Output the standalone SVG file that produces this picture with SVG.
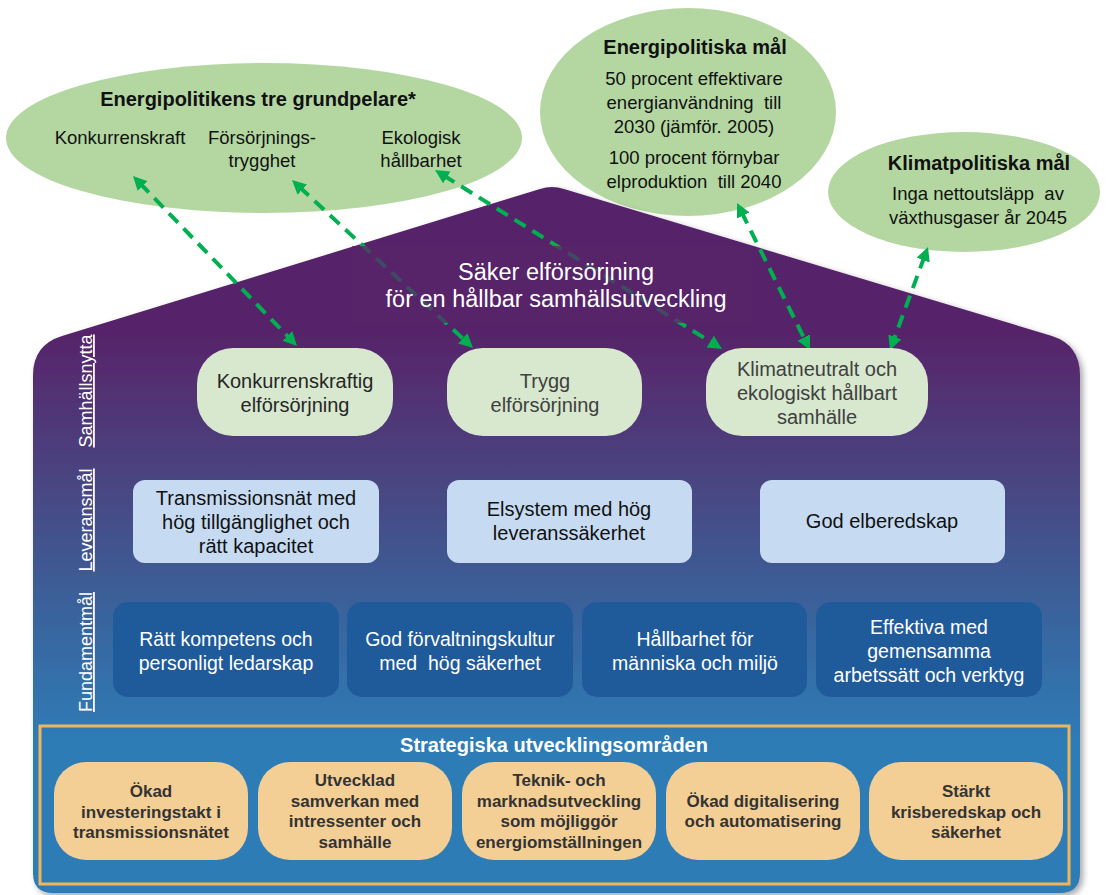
<svg xmlns="http://www.w3.org/2000/svg" width="1120" height="895" viewBox="0 0 1120 895">
<style>
text{font-family:"Liberation Sans",Arial,sans-serif;text-anchor:middle}
.ell{fill:#B4D7A2}
.sn{fill:#D7E8CE}
.lv{fill:#C6DBF2}
.fm{fill:#1F5A9B}
.st{fill:#F3CF95}
.conn{stroke:#00B050;stroke-width:4;stroke-dasharray:13 8;fill:none;marker-start:url(#ah);marker-end:url(#ah)}
.h{font-weight:bold;font-size:20px;fill:#111}
.e{font-size:18.5px;fill:#111}
.s{font-size:20px;fill:#262626}
.l{font-size:20px;fill:#111}
.f{font-size:19.5px;fill:#fff}
.b{font-size:17px;font-weight:bold;fill:#333}
.v{font-size:18px;fill:#fff;text-decoration:underline}
</style>
<defs>
<linearGradient id="hg" gradientUnits="userSpaceOnUse" x1="0" y1="335" x2="0" y2="740">
<stop offset="0" stop-color="#57246A"/>
<stop offset="0.35" stop-color="#4A4480"/>
<stop offset="0.7" stop-color="#39649D"/>
<stop offset="1" stop-color="#2E7BB6"/>
</linearGradient>
<filter id="sh" x="-5%" y="-5%" width="110%" height="110%">
<feDropShadow dx="3" dy="3" stdDeviation="3" flood-color="#000" flood-opacity="0.35"/>
</filter>
<marker id="ah" viewBox="0 0 10 10" refX="3" refY="5" markerUnits="userSpaceOnUse" markerWidth="14" markerHeight="14" orient="auto-start-reverse">
<path d="M0,0 L10,5 L0,10 z" fill="#00B050"/>
</marker>
</defs>

<g id="ellipse-grundpelare">
<ellipse class="ell" cx="264" cy="138" rx="258" ry="75"/>
<text class="h" x="258" y="106">Energipolitikens tre grundpelare*</text>
<text class="e" x="120" y="144">Konkurrenskraft</text>
<text class="e" x="262" y="144">Försörjnings-</text>
<text class="e" x="262" y="167">trygghet</text>
<text class="e" x="421" y="144">Ekologisk</text>
<text class="e" x="421" y="167">hållbarhet</text>
</g>

<g id="ellipse-energipolitiska">
<ellipse class="ell" cx="688" cy="112" rx="148" ry="104"/>
<text class="h" x="695" y="54">Energipolitiska mål</text>
<text class="e" x="694" y="85">50 procent effektivare</text>
<text class="e" x="694" y="109" xml:space="preserve">energianvändning  till</text>
<text class="e" x="694" y="133">2030 (jämför. 2005)</text>
<text class="e" x="694" y="164">100 procent förnybar</text>
<text class="e" x="694" y="188" xml:space="preserve">elproduktion  till 2040</text>
</g>

<g id="ellipse-klimatpolitiska">
<ellipse class="ell" cx="964" cy="192" rx="136" ry="60"/>
<text class="h" x="979" y="170">Klimatpolitiska mål</text>
<text class="e" x="978" y="200" xml:space="preserve">Inga nettoutsläpp  av</text>
<text class="e" x="978" y="224">växthusgaser år 2045</text>
</g>

<g id="house">
<path filter="url(#sh)" fill="url(#hg)" d="M33,873 L33,375 Q33,345 62,336 L540,189 Q552,185 564,189 L1052,336 Q1080,345 1080,375 L1080,873 Q1080,893 1060,893 L53,893 Q33,893 33,873 Z"/>
</g>

<g id="connectors">
<line class="conn" x1="139.8" y1="183.05" x2="290.2" y2="338.95"/>
<line class="conn" x1="299.2" y1="186.7" x2="465.8" y2="341.3"/>
<line class="conn" x1="443.3" y1="175.2" x2="713.7" y2="343.8"/>
<line class="conn" x1="741.4" y1="211.8" x2="805.6" y2="341.2"/>
<line class="conn" x1="924.6" y1="256.2" x2="893.4" y2="340.8"/>
</g>

<g id="title">
<rect x="352" y="246" width="400" height="77" fill="#58246A" opacity="0.72"/>
<text x="556" y="280" style="font-size:23.5px;fill:#fff">Säker elförsörjning</text>
<text x="556" y="307" style="font-size:23.5px;fill:#fff">för en hållbar samhällsutveckling</text>
</g>

<g id="labels">
<text class="v" transform="translate(92,391) rotate(-90)">Samhällsnytta</text>
<text class="v" transform="translate(92,520) rotate(-90)">Leveransmål</text>
<text class="v" transform="translate(92,652) rotate(-90)">Fundamentmål</text>
</g>

<g id="sn1">
<rect class="sn" x="197" y="348" width="196" height="88" rx="36"/>
<text class="s" x="295" y="388">Konkurrenskraftig</text>
<text class="s" x="295" y="412">elförsörjning</text>
</g>
<g id="sn2">
<rect class="sn" x="447" y="348" width="195" height="88" rx="36"/>
<text class="s" x="545" y="388" style="fill:#404040">Trygg</text>
<text class="s" x="545" y="412" style="fill:#404040">elförsörjning</text>
</g>
<g id="sn3">
<rect class="sn" x="706" y="348" width="222" height="88" rx="36"/>
<text class="s" x="817" y="376" style="fill:#404040">Klimatneutralt och</text>
<text class="s" x="817" y="400" style="fill:#404040">ekologiskt hållbart</text>
<text class="s" x="817" y="424" style="fill:#404040">samhälle</text>
</g>

<g id="lv1">
<rect class="lv" x="133" y="480" width="246" height="83" rx="12"/>
<text class="l" x="256" y="505">Transmissionsnät med</text>
<text class="l" x="256" y="529">hög tillgänglighet och</text>
<text class="l" x="256" y="553">rätt kapacitet</text>
</g>
<g id="lv2">
<rect class="lv" x="447" y="480" width="245" height="83" rx="12"/>
<text class="l" x="569" y="516">Elsystem med hög</text>
<text class="l" x="569" y="540">leveranssäkerhet</text>
</g>
<g id="lv3">
<rect class="lv" x="760" y="480" width="245" height="83" rx="12"/>
<text class="l" x="882" y="528">God elberedskap</text>
</g>

<g id="fm1">
<rect class="fm" x="113" y="602" width="226" height="95" rx="15"/>
<text class="f" x="226" y="646">Rätt kompetens och</text>
<text class="f" x="226" y="670">personligt ledarskap</text>
</g>
<g id="fm2">
<rect class="fm" x="347" y="602" width="226" height="95" rx="15"/>
<text class="f" x="460" y="646">God förvaltningskultur</text>
<text class="f" x="460" y="670" xml:space="preserve">med  hög säkerhet</text>
</g>
<g id="fm3">
<rect class="fm" x="582" y="602" width="225" height="95" rx="15"/>
<text class="f" x="695" y="646">Hållbarhet för</text>
<text class="f" x="695" y="670">människa och miljö</text>
</g>
<g id="fm4">
<rect class="fm" x="816" y="602" width="226" height="95" rx="15"/>
<text class="f" x="929" y="634">Effektiva med</text>
<text class="f" x="929" y="658">gemensamma</text>
<text class="f" x="929" y="682">arbetssätt och verktyg</text>
</g>

<g id="strategiska">
<rect x="40" y="726" width="1029" height="158" fill="none" stroke="#EFB55A" stroke-width="3"/>
<text x="554" y="752" style="font-size:20px;font-weight:bold;fill:#fff">Strategiska utvecklingsområden</text>
</g>

<g id="st1">
<rect class="st" x="54" y="762" width="194" height="98" rx="32"/>
<text class="b" x="151" y="797">Ökad</text>
<text class="b" x="151" y="818">investeringstakt i</text>
<text class="b" x="151" y="838">transmissionsnätet</text>
</g>
<g id="st2">
<rect class="st" x="258" y="762" width="194" height="98" rx="32"/>
<text class="b" x="355" y="786">Utvecklad</text>
<text class="b" x="355" y="807">samverkan med</text>
<text class="b" x="355" y="827">intressenter och</text>
<text class="b" x="355" y="848">samhälle</text>
</g>
<g id="st3">
<rect class="st" x="462" y="762" width="194" height="98" rx="32"/>
<text class="b" x="559" y="786">Teknik- och</text>
<text class="b" x="559" y="807">marknadsutveckling</text>
<text class="b" x="559" y="827">som möjliggör</text>
<text class="b" x="559" y="848">energiomställningen</text>
</g>
<g id="st4">
<rect class="st" x="666" y="762" width="194" height="98" rx="32"/>
<text class="b" x="763" y="807">Ökad digitalisering</text>
<text class="b" x="763" y="827">och automatisering</text>
</g>
<g id="st5">
<rect class="st" x="869" y="762" width="194" height="98" rx="32"/>
<text class="b" x="966" y="797">Stärkt</text>
<text class="b" x="966" y="818">krisberedskap och</text>
<text class="b" x="966" y="838">säkerhet</text>
</g>
</svg>
